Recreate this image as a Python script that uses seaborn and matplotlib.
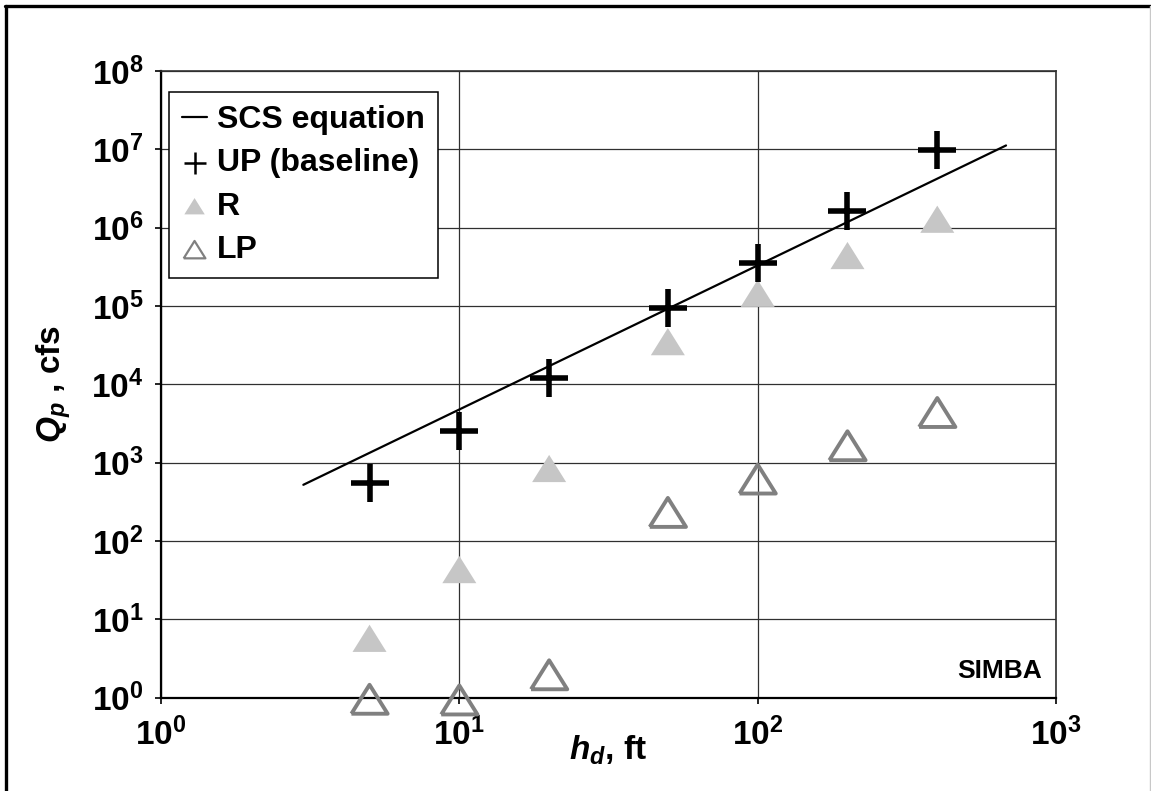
import numpy as np
import matplotlib
matplotlib.use("Agg")
import matplotlib.pyplot as plt
from matplotlib.lines import Line2D
from matplotlib.ticker import FixedLocator, FuncFormatter, NullLocator
import seaborn as sns

# Peak discharge vs. dam height (log-log)
h_d = [5, 10, 20, 50, 100, 200, 400]
q_up = [550, 2500, 1.2e4, 9.4e4, 3.5e5, 1.65e6, 9.7e6]
q_r = [5.7, 43, 840, 3.5e4, 1.45e5, 4.4e5, 1.28e6]
q_lp = [0.95, 0.93, 1.95, 231, 616, 1640, 4360]

# SCS equation line end points
scs_h = [3, 680]
scs_q = [520, 1.12e7]

x_ticks = [1, 10, 100, 1000]
y_ticks = [1e0, 1e1, 1e2, 1e3, 1e4, 1e5, 1e6, 1e7, 1e8]

sns.set_theme(style="white")
plt.rcParams.update({
    "font.family": ["Liberation Sans", "DejaVu Sans"],
    "font.weight": "bold",
    "text.color": "black",
    "axes.labelcolor": "black",
    "xtick.color": "black",
    "ytick.color": "black",
    "mathtext.fontset": "custom",
    "mathtext.rm": "Liberation Sans:bold",
    "mathtext.bf": "Liberation Sans:bold",
    "mathtext.it": "Liberation Sans:italic:bold",
    "mathtext.bfit": "Liberation Sans:italic:bold",
})

W, H = 1151, 791
fig = plt.figure(figsize=(W / 100, H / 100), dpi=100)
ax_l, ax_r, ax_t, ax_b = 161, 1056, 71, 697.5
ax = fig.add_axes([ax_l / W, 1 - ax_b / H, (ax_r - ax_l) / W, (ax_b - ax_t) / H])
ax.set_xscale("log")
ax.set_yscale("log")
ax.set_xlim(1, 1000)
ax.set_ylim(1, 1e8)

# wide triangle marker
tri = [(-1.25, -1), (1.25, -1), (0, 1), (-1.25, -1)]

sns.lineplot(x=scs_h, y=scs_q, color="black", linewidth=1.6, ax=ax,
             zorder=3, label="SCS equation", legend=False)
sns.scatterplot(x=h_d, y=q_r, marker=tri, s=600, color="#c6c6c6",
                edgecolor="none", linewidth=0, ax=ax, zorder=3, label="R",
                legend=False, clip_on=False)
sns.scatterplot(x=h_d, y=q_lp, marker=tri, s=680, color="#808080",
                facecolor="none", edgecolor="#808080", linewidth=2.8,
                ax=ax, zorder=3, label="LP", legend=False, clip_on=False)
sns.scatterplot(x=h_d, y=q_up, marker="+", s=720, color="black",
                linewidth=4.0, ax=ax, zorder=4, label="UP (baseline)",
                legend=False, clip_on=False)

# axes, ticks and grid
fmt = FuncFormatter(lambda v, _: r"$\mathbf{10^{%d}}$" % int(round(np.log10(v))))
ax.xaxis.set_major_locator(FixedLocator(x_ticks))
ax.yaxis.set_major_locator(FixedLocator(y_ticks))
ax.xaxis.set_minor_locator(NullLocator())
ax.yaxis.set_minor_locator(NullLocator())
ax.xaxis.set_major_formatter(fmt)
ax.yaxis.set_major_formatter(fmt)
ax.tick_params(axis="both", which="major", direction="out", length=4.5,
               width=1.2, color="black", labelsize=24, labelcolor="black")
ax.tick_params(axis="x", pad=10, bottom=True)
ax.tick_params(axis="y", pad=8, left=True)
ax.grid(True, which="major", color="#303030", linewidth=0.9)
ax.set_axisbelow(True)
for side in ["left", "bottom"]:
    ax.spines[side].set_color("black")
    ax.spines[side].set_linewidth(1.6)
for side in ["top", "right"]:
    ax.spines[side].set_color("#303030")
    ax.spines[side].set_linewidth(1.2)
    ax.spines[side].set_visible(True)

ax.set_xlabel(r"$\mathbfit{h}_{\mathbfit{d}}$, ft", fontsize=24,
              fontweight="bold", va="top")
ax.xaxis.set_label_coords(0.5, -0.058)
ax.set_ylabel(r"$\mathbfit{Q}_{\mathbfit{p}}$ , cfs", fontsize=24,
              fontweight="bold")
ax.yaxis.set_label_coords(-0.098, 0.5)

ax.text((1042 - ax_l) / (ax_r - ax_l), 0.031, "SIMBA", transform=ax.transAxes,
        ha="right", va="baseline", fontsize=19, fontweight="bold",
        color="black")

# legend in series order
handles, labels = ax.get_legend_handles_labels()
order = ["SCS equation", "UP (baseline)", "R", "LP"]
hmap = dict(zip(labels, handles))
leg = ax.legend([hmap[k] for k in order], order, loc="upper left",
                bbox_to_anchor=(8 / (ax_r - ax_l), 1 - 21 / (ax_b - ax_t)),
                borderaxespad=0, frameon=True, fancybox=False,
                edgecolor="black", framealpha=1, scatterpoints=1,
                markerscale=0.6, handlelength=0.8, handletextpad=0.3,
                labelspacing=0.42, borderpad=0.4,
                prop={"weight": "bold", "size": 23})
leg.get_frame().set_linewidth(1.1)
leg.set_zorder(6)
for txt in leg.get_texts():
    txt.set_color("black")
lh = leg.legend_handles
lh[1].set_linewidths([1.8])
lh[3].set_linewidths([1.6])

# page border
fig.add_artist(Line2D([5 / W, 1.0], [1 - 6 / H, 1 - 6 / H],
                      transform=fig.transFigure, color="black", lw=2.4))
fig.add_artist(Line2D([6 / W, 6 / W], [0.0, 1 - 6 / H],
                      transform=fig.transFigure, color="black", lw=2.4))
fig.add_artist(Line2D([1149.5 / W, 1149.5 / W], [0.0, 1 - 6 / H],
                      transform=fig.transFigure, color="#c8c8c8", lw=1.0))

fig.savefig("out.png", dpi=100, facecolor="white")
